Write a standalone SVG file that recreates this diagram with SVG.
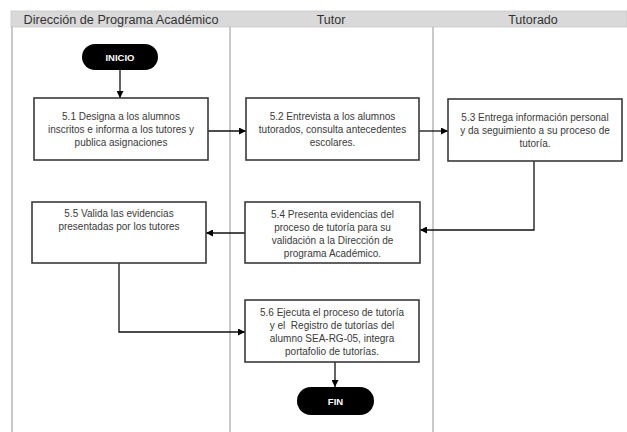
<svg xmlns="http://www.w3.org/2000/svg" width="627" height="432" viewBox="0 0 627 432">
<style>
.lane{stroke:#a6a6a6;stroke-width:1.2;fill:none}
.hdr{font-family:"Liberation Sans",Arial,sans-serif;font-size:12.5px;fill:#333;text-anchor:middle}
.box{fill:#fff;stroke:#3a3a3a;stroke-width:1.6}
.t{font-family:"Liberation Sans",Arial,sans-serif;font-size:10px;fill:#3a3a3a;text-anchor:middle}
.pill{fill:#000}
.pt{font-family:"Liberation Sans",Arial,sans-serif;font-size:9.5px;font-weight:bold;fill:#fff;text-anchor:middle}
.c{stroke:#111;stroke-width:1.3;fill:none;marker-end:url(#ah)}
</style>
<defs>
<marker id="ah" viewBox="0 0 10 10" refX="10" refY="5" markerWidth="7" markerHeight="7" markerUnits="userSpaceOnUse" orient="auto">
<path d="M0,0 L10,5 L0,10 z" fill="#000"/>
</marker>
</defs>
<rect width="627" height="432" fill="#fff"/>
<g id="header">
<rect x="11" y="11" width="616" height="16" fill="#d9d9d9" stroke="#c8c8c8" stroke-width="0.8"/>
<text class="hdr" x="121" y="23.5" textLength="195" lengthAdjust="spacingAndGlyphs">Dirección de Programa Académico</text>
<text class="hdr" x="331" y="23.5">Tutor</text>
<text class="hdr" x="533" y="23.5">Tutorado</text>
</g>
<g id="lanes">
<line class="lane" x1="12" y1="27" x2="12" y2="432"/>
<line class="lane" x1="230" y1="27" x2="230" y2="432"/>
<line class="lane" x1="433" y1="27" x2="433" y2="432"/>
</g>
<g id="connectors">
<path class="c" d="M120,70 V98"/>
<path class="c" d="M208,131 H246"/>
<path class="c" d="M419,131 H448"/>
<path class="c" d="M534,161 V230 H420"/>
<path class="c" d="M245,233 H206"/>
<path class="c" d="M119,263 V332 H245"/>
<path class="c" d="M335,362 V387"/>
</g>
<g id="inicio">
<rect class="pill" x="82" y="44" width="76" height="26" rx="13"/>
<text class="pt" x="120" y="60.5">INICIO</text>
</g>
<g id="n51">
<rect class="box" x="34" y="98" width="174" height="62"/>
<text class="t" x="121" y="120">5.1 Designa a los alumnos</text>
<text class="t" x="121" y="133">inscritos e informa a los tutores y</text>
<text class="t" x="121" y="146">publica asignaciones</text>
</g>
<g id="n52">
<rect class="box" x="246" y="98" width="173" height="62"/>
<text class="t" x="332.5" y="120">5.2 Entrevista a los alumnos</text>
<text class="t" x="332.5" y="133">tutorados, consulta antecedentes</text>
<text class="t" x="332.5" y="146">escolares.</text>
</g>
<g id="n53">
<rect class="box" x="448" y="99" width="174" height="62"/>
<text class="t" x="535" y="121">5.3 Entrega información personal</text>
<text class="t" x="535" y="134">y da seguimiento a su proceso de</text>
<text class="t" x="535" y="147">tutoría.</text>
</g>
<g id="n54">
<rect class="box" x="245" y="202" width="175" height="61"/>
<text class="t" x="332.5" y="218">5.4 Presenta evidencias del</text>
<text class="t" x="332.5" y="231">proceso de tutoría para su</text>
<text class="t" x="332.5" y="244">validación a la Dirección de</text>
<text class="t" x="332.5" y="257">programa Académico.</text>
</g>
<g id="n55">
<rect class="box" x="32" y="202" width="174" height="61"/>
<text class="t" x="119" y="217">5.5 Valida las evidencias</text>
<text class="t" x="119" y="230">presentadas por los  tutores</text>
</g>
<g id="n56">
<rect class="box" x="245" y="300" width="174" height="62"/>
<text class="t" x="332" y="316">5.6 Ejecuta el proceso de tutoría</text>
<text class="t" x="332" y="329" xml:space="preserve">y el  Registro de tutorías del</text>
<text class="t" x="332" y="342">alumno SEA-RG-05, integra</text>
<text class="t" x="332" y="355">portafolio de tutorías.</text>
</g>
<g id="fin">
<rect class="pill" x="297" y="387" width="77" height="28" rx="14"/>
<text class="pt" x="335.5" y="404.5">FIN</text>
</g>
</svg>
